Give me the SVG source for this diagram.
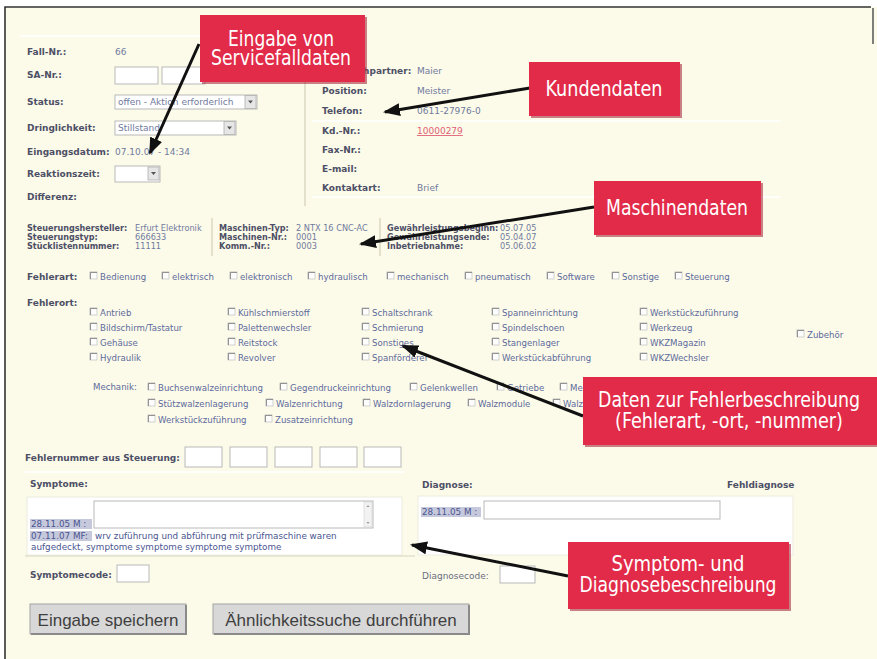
<svg xmlns="http://www.w3.org/2000/svg" xmlns:xlink="http://www.w3.org/1999/xlink" width="877" height="659" viewBox="0 0 877 659">
<defs>
<style>
.lb{font-family:"DejaVu Sans",Verdana,sans-serif;font-size:9px;font-weight:bold;fill:#4d4f66}
.lbs{font-family:"DejaVu Sans",Verdana,sans-serif;font-size:8.1px;font-weight:bold;fill:#4d4f66}
.vl{font-family:"DejaVu Sans",Verdana,sans-serif;font-size:9px;fill:#707a9e}
.vls{font-family:"DejaVu Sans",Verdana,sans-serif;font-size:8.2px;fill:#707a9e}
.cl{font-family:"DejaVu Sans",Verdana,sans-serif;font-size:8.6px;fill:#5d6a9c}
.tx{font-family:"DejaVu Sans",Verdana,sans-serif;font-size:8.8px;fill:#4a5590}
.in{fill:#ffffff;stroke:#b9b9b9;stroke-width:1}
.cr{fill:#e22b48}
.cs{fill:#9e1c31;opacity:0.55}
.ct{font-family:"DejaVu Sans Condensed","DejaVu Sans",sans-serif;font-size:21px;fill:#ffffff;text-anchor:middle}
.ar{stroke:#111111;stroke-width:3;fill:none;marker-end:url(#ah)}
.hl{fill:#c6c9dc}
.btn{fill:#d8d8d8;stroke:#a4a4a4;stroke-width:1}
.bsh{stroke:#8a8a8a;stroke-width:2;fill:none}
.bt{font-family:"Liberation Sans",Arial,sans-serif;font-size:17px;fill:#3f3f3f;text-anchor:middle}
.sep{stroke:#ffffff;stroke-width:1.5}
.vs{stroke:#d2cfb8;stroke-width:1.2}
.dd{fill:#e6e6e6;stroke:#b0b0b0;stroke-width:0.8}
</style>
<marker id="ah" markerUnits="userSpaceOnUse" markerWidth="17" markerHeight="13" refX="15" refY="6.5" orient="auto">
<path d="M0,0 L17,6.5 L0,13 Z" fill="#111111"/>
</marker>
<g id="cbx"><rect x="0" y="0" width="7" height="7" fill="#fdfdfd" stroke="#c8c8c8" stroke-width="0.8"/><path d="M0.4,7 V0.4 H7" stroke="#7d7d7d" stroke-width="0.9" fill="none"/></g>
<g id="ddb"><rect x="0" y="0" width="11" height="13" class="dd"/><path d="M3,5 L8,5 L5.5,8 Z" fill="#555"/></g>
</defs>

<rect x="0" y="0" width="877" height="659" fill="#ffffff"/>
<g id="frame">
<rect x="5" y="7" width="872" height="652" fill="#fcfbe9"/>
<path d="M5,659 V7 H871" stroke="#333333" stroke-width="1.6" fill="none"/>
<path d="M873,8 V44" stroke="#555555" stroke-width="1.5" fill="none"/>
</g>

<g id="service-form">
<line class="sep" x1="20" y1="36" x2="300" y2="36"/>
<line class="vs" x1="305" y1="62" x2="305" y2="206"/>
<text class="lb" x="27" y="55">Fall-Nr.:</text><text class="vl" x="115" y="55">66</text>
<text class="lb" x="27" y="78">SA-Nr.:</text>
<rect class="in" x="115" y="67" width="43" height="17"/><rect class="in" x="162" y="67" width="43" height="17"/>
<text class="lb" x="27" y="105">Status:</text>
<rect class="in" x="115" y="95" width="142" height="14"/><text class="vl" x="118" y="105">offen - Aktion erforderlich</text><use xlink:href="#ddb" x="245" y="95.5"/>
<text class="lb" x="27" y="131">Dringlichkeit:</text>
<rect class="in" x="115" y="121" width="121" height="14"/><text class="vl" x="118" y="131">Stillstand</text><use xlink:href="#ddb" x="224" y="121.5"/>
<text class="lb" x="27" y="155">Eingangsdatum:</text><text class="vl" x="115" y="155">07.10.07 - 14:34</text>
<text class="lb" x="27" y="177">Reaktionszeit:</text>
<rect class="in" x="115" y="166" width="45" height="16"/><use xlink:href="#ddb" x="148" y="167"/>
<text class="lb" x="27" y="200">Differenz:</text>
</g>

<g id="customer-form">
<line class="sep" x1="312" y1="121" x2="780" y2="121"/>
<line class="sep" x1="312" y1="197" x2="780" y2="197"/>
<text class="lb" x="322" y="74">Ansprechpartner:</text><text class="vl" x="417" y="74">Maier</text>
<text class="lb" x="322" y="94">Position:</text><text class="vl" x="417" y="94">Meister</text>
<text class="lb" x="322" y="114">Telefon:</text><text class="vl" x="417" y="114">0611-27976-0</text>
<text class="lb" x="322" y="134">Kd.-Nr.:</text><text class="vl" x="417" y="134" style="fill:#e06075;text-decoration:underline">10000279</text>
<text class="lb" x="322" y="153">Fax-Nr.:</text>
<text class="lb" x="322" y="172">E-mail:</text>
<text class="lb" x="322" y="191">Kontaktart:</text><text class="vl" x="417" y="191">Brief</text>
</g>

<g id="machine-form">
<line class="vs" x1="212" y1="218" x2="212" y2="256"/>
<line class="vs" x1="380" y1="218" x2="380" y2="256"/>
<text class="lbs" x="27" y="231">Steuerungshersteller:</text><text class="vls" x="135" y="231">Erfurt Elektronik</text>
<text class="lbs" x="27" y="240">Steuerungstyp:</text><text class="vls" x="135" y="240">666633</text>
<text class="lbs" x="27" y="249">Stücklistennummer:</text><text class="vls" x="135" y="249">11111</text>
<text class="lbs" x="219" y="231">Maschinen-Typ:</text><text class="vls" x="296" y="231">2 NTX 16 CNC-AC</text>
<text class="lbs" x="219" y="240">Maschinen-Nr.:</text><text class="vls" x="296" y="240">0001</text>
<text class="lbs" x="219" y="249">Komm.-Nr.:</text><text class="vls" x="296" y="249">0003</text>
<text class="lbs" x="387" y="231">Gewährleistungsbeginn:</text><text class="vls" x="500" y="231">05.07.05</text>
<text class="lbs" x="387" y="240">Gewährleistungsende:</text><text class="vls" x="500" y="240">05.04.07</text>
<text class="lbs" x="387" y="249">Inbetriebnahme:</text><text class="vls" x="500" y="249">05.06.02</text>
</g>

<g id="fehlerart">
<text class="lb" x="27" y="280">Fehlerart:</text>
<use xlink:href="#cbx" x="90" y="272"/><text class="cl" x="100" y="280">Bedienung</text>
<use xlink:href="#cbx" x="162" y="272"/><text class="cl" x="172" y="280">elektrisch</text>
<use xlink:href="#cbx" x="230" y="272"/><text class="cl" x="240" y="280">elektronisch</text>
<use xlink:href="#cbx" x="308" y="272"/><text class="cl" x="318" y="280">hydraulisch</text>
<use xlink:href="#cbx" x="387" y="272"/><text class="cl" x="397" y="280">mechanisch</text>
<use xlink:href="#cbx" x="465" y="272"/><text class="cl" x="475" y="280">pneumatisch</text>
<use xlink:href="#cbx" x="547" y="272"/><text class="cl" x="557" y="280">Software</text>
<use xlink:href="#cbx" x="612" y="272"/><text class="cl" x="622" y="280">Sonstige</text>
<use xlink:href="#cbx" x="675" y="272"/><text class="cl" x="685" y="280">Steuerung</text>
</g>

<g id="fehlerort">
<text class="lb" x="27" y="306">Fehlerort:</text>
<use xlink:href="#cbx" x="90" y="308"/><text class="cl" x="100" y="316">Antrieb</text>
<use xlink:href="#cbx" x="90" y="323"/><text class="cl" x="100" y="331">Bildschirm/Tastatur</text>
<use xlink:href="#cbx" x="90" y="338"/><text class="cl" x="100" y="346">Gehäuse</text>
<use xlink:href="#cbx" x="90" y="353"/><text class="cl" x="100" y="361">Hydraulik</text>
<use xlink:href="#cbx" x="228" y="308"/><text class="cl" x="238" y="316">Kühlschmierstoff</text>
<use xlink:href="#cbx" x="228" y="323"/><text class="cl" x="238" y="331">Palettenwechsler</text>
<use xlink:href="#cbx" x="228" y="338"/><text class="cl" x="238" y="346">Reitstock</text>
<use xlink:href="#cbx" x="228" y="353"/><text class="cl" x="238" y="361">Revolver</text>
<use xlink:href="#cbx" x="362" y="308"/><text class="cl" x="372" y="316">Schaltschrank</text>
<use xlink:href="#cbx" x="362" y="323"/><text class="cl" x="372" y="331">Schmierung</text>
<use xlink:href="#cbx" x="362" y="338"/><text class="cl" x="372" y="346">Sonstiges</text>
<use xlink:href="#cbx" x="362" y="353"/><text class="cl" x="372" y="361">Spanförderer</text>
<use xlink:href="#cbx" x="492" y="308"/><text class="cl" x="502" y="316">Spanneinrichtung</text>
<use xlink:href="#cbx" x="492" y="323"/><text class="cl" x="502" y="331">Spindelschoen</text>
<use xlink:href="#cbx" x="492" y="338"/><text class="cl" x="502" y="346">Stangenlager</text>
<use xlink:href="#cbx" x="492" y="353"/><text class="cl" x="502" y="361">Werkstückabführung</text>
<use xlink:href="#cbx" x="640" y="308"/><text class="cl" x="650" y="316">Werkstückzuführung</text>
<use xlink:href="#cbx" x="640" y="323"/><text class="cl" x="650" y="331">Werkzeug</text>
<use xlink:href="#cbx" x="640" y="338"/><text class="cl" x="650" y="346">WKZMagazin</text>
<use xlink:href="#cbx" x="640" y="353"/><text class="cl" x="650" y="361">WKZWechsler</text>
<use xlink:href="#cbx" x="797" y="330"/><text class="cl" x="807" y="338">Zubehör</text>
<text class="cl" x="93" y="390">Mechanik:</text>
<use xlink:href="#cbx" x="148" y="383"/><text class="cl" x="158" y="391">Buchsenwalzeinrichtung</text>
<use xlink:href="#cbx" x="280" y="383"/><text class="cl" x="290" y="391">Gegendruckeinrichtung</text>
<use xlink:href="#cbx" x="410" y="383"/><text class="cl" x="420" y="391">Gelenkwellen</text>
<use xlink:href="#cbx" x="497" y="383"/><text class="cl" x="507" y="391">Getriebe</text>
<use xlink:href="#cbx" x="560" y="383"/><text class="cl" x="570" y="391">Me</text>
<use xlink:href="#cbx" x="148" y="399"/><text class="cl" x="158" y="407">Stützwalzenlagerung</text>
<use xlink:href="#cbx" x="266" y="399"/><text class="cl" x="276" y="407">Walzenrichtung</text>
<use xlink:href="#cbx" x="363" y="399"/><text class="cl" x="373" y="407">Walzdornlagerung</text>
<use xlink:href="#cbx" x="468" y="399"/><text class="cl" x="478" y="407">Walzmodule</text>
<use xlink:href="#cbx" x="553" y="399"/><text class="cl" x="563" y="407">Walz</text>
<use xlink:href="#cbx" x="148" y="415"/><text class="cl" x="158" y="423">Werkstückzuführung</text>
<use xlink:href="#cbx" x="265" y="415"/><text class="cl" x="275" y="423">Zusatzeinrichtung</text>
</g>

<g id="fehlernummer">
<text class="lb" x="25" y="461">Fehlernummer aus Steuerung:</text>
<rect class="in" x="185" y="447" width="37" height="20"/>
<rect class="in" x="230" y="447" width="37" height="20"/>
<rect class="in" x="275" y="447" width="37" height="20"/>
<rect class="in" x="320" y="447" width="37" height="20"/>
<rect class="in" x="364" y="447" width="37" height="20"/>
</g>

<g id="symptome">
<line class="sep" x1="25" y1="472" x2="405" y2="472"/>
<text class="lb" x="30" y="487">Symptome:</text>
<rect x="27" y="497" width="375" height="58" fill="#ffffff" stroke="#ecebe0"/>
<line x1="25" y1="556" x2="415" y2="556" stroke="#e2e0cc" stroke-width="1.5"/>
<rect class="in" x="94" y="501" width="279" height="27"/>
<rect x="364" y="502" width="8" height="25" fill="#f2f2f2" stroke="#d0d0d0" stroke-width="0.6"/>
<path d="M366.5,507 L369.5,507 L368,505 Z M366.5,522 L369.5,522 L368,524 Z" fill="#9a9a9a"/>
<rect class="hl" x="30" y="519" width="62" height="10"/>
<text class="tx" x="31" y="527">28.11.05 M :</text>
<rect class="hl" x="30" y="531" width="62" height="10"/>
<text class="tx" x="31" y="539">07.11.07 MF:</text>
<text class="tx" x="95" y="539">wrv zuführung und abführung mit prüfmaschine waren</text>
<text class="tx" x="31" y="550">aufgedeckt, symptome symptome symptome symptome</text>
<text class="lb" x="30" y="578">Symptomecode:</text>
<rect class="in" x="117" y="565" width="32" height="17"/>
</g>

<g id="diagnose">
<text class="lb" x="422" y="488">Diagnose:</text>
<text class="lb" x="727" y="488">Fehldiagnose</text>
<rect x="418" y="496" width="375" height="59" fill="#ffffff" stroke="#ecebe0"/>
<rect class="hl" x="421" y="507" width="60" height="10"/>
<text class="tx" x="422" y="515">28.11.05 M :</text>
<rect class="in" x="484" y="501" width="236" height="18"/>
<text class="lb" x="422" y="579" style="font-weight:normal;fill:#6a6c80">Diagnosecode:</text>
<rect class="in" x="500" y="566" width="35" height="17"/>
</g>

<g id="buttons">
<rect class="btn" x="30" y="604" width="156" height="30"/>
<path class="bsh" d="M31,634 H186 V605"/>
<text class="bt" x="108" y="626">Eingabe speichern</text>
<rect class="btn" x="213" y="604" width="256" height="30"/>
<path class="bsh" d="M214,634 H469 V605"/>
<text class="bt" x="341" y="626">Ähnlichkeitssuche durchführen</text>
</g>

<g id="connectors">
<line class="ar" x1="199" y1="44" x2="150" y2="153"/>
<line class="ar" x1="530" y1="88" x2="385" y2="112"/>
<line class="ar" x1="594" y1="207" x2="361" y2="244"/>
<line class="ar" x1="583" y1="416" x2="403" y2="346"/>
<line class="ar" x1="568" y1="576" x2="412" y2="545"/>
</g>

<g id="callout-servicefall">
<rect class="cs" x="202" y="17" width="165" height="67"/>
<rect class="cr" x="200" y="15" width="165" height="67"/>
<text class="ct" x="281" y="46" textLength="106" lengthAdjust="spacingAndGlyphs">Eingabe von</text>
<text class="ct" x="281" y="65" textLength="140" lengthAdjust="spacingAndGlyphs">Servicefalldaten</text>
</g>
<g id="callout-kunden">
<rect class="cs" x="531" y="64" width="151" height="54"/>
<rect class="cr" x="529" y="62" width="151" height="54"/>
<text class="ct" x="604" y="96" textLength="117" lengthAdjust="spacingAndGlyphs">Kundendaten</text>
</g>
<g id="callout-maschinen">
<rect class="cs" x="596" y="183" width="167" height="54"/>
<rect class="cr" x="594" y="181" width="167" height="54"/>
<text class="ct" x="677" y="215" textLength="142" lengthAdjust="spacingAndGlyphs">Maschinendaten</text>
</g>
<g id="callout-fehler">
<rect class="cs" x="585" y="379" width="292" height="68"/>
<rect class="cr" x="583" y="377" width="294" height="68"/>
<text class="ct" x="729" y="407" textLength="262" lengthAdjust="spacingAndGlyphs">Daten zur Fehlerbeschreibung</text>
<text class="ct" x="729" y="428" textLength="228" lengthAdjust="spacingAndGlyphs">(Fehlerart, -ort, -nummer)</text>
</g>
<g id="callout-symptom">
<rect class="cs" x="570" y="544" width="221" height="67"/>
<rect class="cr" x="568" y="542" width="221" height="67"/>
<text class="ct" x="678" y="571" textLength="133" lengthAdjust="spacingAndGlyphs">Symptom- und</text>
<text class="ct" x="678" y="592" textLength="197" lengthAdjust="spacingAndGlyphs">Diagnosebeschreibung</text>
</g>
</svg>
